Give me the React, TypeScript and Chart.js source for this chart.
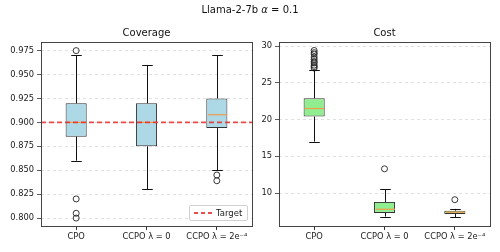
import React, { useEffect, useRef } from "react";
import { Chart, registerables } from "chart.js";
Chart.register(...registerables);

const CATEGORIES = ["CPO", "CCPO λ = 0", "CCPO λ = 2e⁻⁴"];

// Coverage
const COV_Q1 = [0.885, 0.875, 0.894];
const COV_Q3 = [0.92, 0.92, 0.925];
const COV_MED = [0.9, 0.9, 0.908];
const COV_LO = [0.86, 0.83, 0.85];
const COV_HI = [0.97, 0.96, 0.97];
const COV_OUT_CPO = [0.975, 0.82, 0.805, 0.8];
const COV_OUT_CCPO0: number[] = [];
const COV_OUT_CCPO2 = [0.845, 0.839];
const COV_TARGET = 0.9;
const COV_TICKS = [0.8, 0.825, 0.85, 0.875, 0.9, 0.925, 0.95, 0.975];
const COV_MIN = 0.7917;
const COV_MAX = 0.984;

// Cost
const COST_Q1 = [20.4, 7.3, 7.15];
const COST_Q3 = [22.9, 8.8, 7.6];
const COST_MED = [21.5, 7.8, 7.4];
const COST_LO = [17.0, 6.8, 6.7];
const COST_HI = [26.7, 10.55, 7.85];
const COST_OUT_CPO = [27.0, 27.2, 27.4, 27.7, 27.9, 28.2, 28.5, 28.9, 29.1, 29.4];
const COST_OUT_CCPO0 = [13.3];
const COST_OUT_CCPO2 = [9.1];
const COST_TICKS = [10, 15, 20, 25, 30];
const COST_MIN = 5.52;
const COST_MAX = 30.55;

const FONT = "'DejaVu Sans', sans-serif";
const TARGET_COLOR = "rgba(230,45,45,0.85)";

type BoxProps = {
  q1: number[];
  q3: number[];
  med: number[];
  lo: number[];
  hi: number[];
  outliers: number[][];
  color: string;
  ticks: number[];
  min: number;
  max: number;
  decimals: number;
  target?: number;
  yWidth: number;
  width: number;
  left: number;
};

const boxPlugin = {
  id: "boxExtras",
  afterDatasetsDraw(chart: any, _args: any, opts: any) {
    const { ctx, chartArea, scales } = chart;
    const x = scales.x;
    const y = scales.y;
    const meta = chart.getDatasetMeta(0);
    ctx.save();
    for (let i = 0; i < opts.q1.length; i++) {
      const cx = Math.round(x.getPixelForValue(i)) + 0.5;
      const bw = meta.data[i] ? meta.data[i].width : 20;
      const capHalf = bw / 4;
      ctx.strokeStyle = "#111";
      ctx.lineWidth = 1;
      ctx.setLineDash([]);
      ctx.beginPath();
      ctx.moveTo(cx, y.getPixelForValue(opts.q3[i]));
      ctx.lineTo(cx, y.getPixelForValue(opts.hi[i]));
      ctx.moveTo(cx, y.getPixelForValue(opts.q1[i]));
      ctx.lineTo(cx, y.getPixelForValue(opts.lo[i]));
      const yh = Math.round(y.getPixelForValue(opts.hi[i])) + 0.5;
      const yl = Math.round(y.getPixelForValue(opts.lo[i])) + 0.5;
      ctx.moveTo(cx - capHalf, yh);
      ctx.lineTo(cx + capHalf, yh);
      ctx.moveTo(cx - capHalf, yl);
      ctx.lineTo(cx + capHalf, yl);
      ctx.stroke();
      // median
      const ym = y.getPixelForValue(opts.med[i]);
      ctx.strokeStyle = "#f39c4a";
      ctx.lineWidth = 1.2;
      ctx.beginPath();
      ctx.moveTo(cx - bw / 2 + 1, ym);
      ctx.lineTo(cx + bw / 2 - 1, ym);
      ctx.stroke();
    }
    if (opts.target !== undefined && opts.target !== null) {
      const yt = y.getPixelForValue(opts.target);
      ctx.strokeStyle = TARGET_COLOR;
      ctx.lineWidth = 1.6;
      ctx.setLineDash([5, 3]);
      ctx.beginPath();
      ctx.moveTo(chartArea.left, yt);
      ctx.lineTo(chartArea.right, yt);
      ctx.stroke();
      ctx.setLineDash([]);
    }
    ctx.strokeStyle = "#444";
    ctx.lineWidth = 1;
    ctx.strokeRect(
      Math.round(chartArea.left) + 0.5,
      Math.round(chartArea.top) + 0.5,
      Math.round(chartArea.right - chartArea.left),
      Math.round(chartArea.bottom - chartArea.top)
    );
    ctx.restore();
  },
};

function BoxChart(p: BoxProps) {
  const ref = useRef<HTMLCanvasElement | null>(null);
  useEffect(() => {
    if (!ref.current) return;
    const outPts: { x: string; y: number }[] = [];
    p.outliers.forEach((arr, k) =>
      arr.forEach((v) => outPts.push({ x: CATEGORIES[k], y: v }))
    );
    const chart = new Chart(ref.current, {
      type: "bar",
      data: {
        labels: CATEGORIES,
        datasets: [
          {
            type: "bar",
            data: p.q1.map((v, i) => [v, p.q3[i]]) as any,
            backgroundColor: p.color,
            borderColor: "#333",
            borderWidth: 1,
            borderSkipped: false,
            barPercentage: 0.3,
            categoryPercentage: 1,
          } as any,
          {
            type: "line",
            data: outPts as any,
            showLine: false,
            pointRadius: 3,
            pointBackgroundColor: "rgba(0,0,0,0)",
            pointBorderColor: "#222",
            pointBorderWidth: 0.9,
          } as any,
        ],
      },
      options: {
        responsive: false,
        animation: false,
        layout: { padding: { left: 0, right: 10, top: 42, bottom: 0 } },
        plugins: {
          legend: { display: false },
          tooltip: { enabled: false },
          boxExtras: {
            q1: p.q1,
            q3: p.q3,
            med: p.med,
            lo: p.lo,
            hi: p.hi,
            target: p.target,
          },
        } as any,
        scales: {
          x: {
            offset: true,
            grid: {
              offset: false,
              drawOnChartArea: false,
              drawTicks: true,
              tickLength: 4,
              tickColor: "#333",
            },
            border: { display: false },
            ticks: {
              color: "#222",
              font: { family: FONT, size: 8.3 },
              padding: 2,
              maxRotation: 0,
              autoSkip: false,
            },
            afterFit: (s: any) => {
              s.height = 26;
            },
          },
          y: {
            min: p.min,
            max: p.max,
            grid: {
              color: "#d8d8d8",
              lineWidth: 0.8,
              drawTicks: true,
              tickLength: 4,
              tickColor: "#333",
              tickBorderDash: [],
            } as any,
            border: { display: false, dash: [3, 3] },
            ticks: {
              color: "#222",
              font: { family: FONT, size: 8.3 },
              padding: 3,
              callback: (v: any) => Number(v).toFixed(p.decimals),
            },
            afterBuildTicks: (s: any) => {
              s.ticks = p.ticks.map((v) => ({ value: v }));
            },
            afterFit: (s: any) => {
              s.width = p.yWidth;
            },
          },
        },
      },
      plugins: [boxPlugin],
    });
    return () => chart.destroy();
  }, []);
  return (
    <canvas
      ref={ref}
      width={p.width}
      height={252}
      style={{
        position: "absolute",
        left: p.left,
        top: 0,
        width: p.width,
        height: 252,
      }}
    />
  );
}

export default function App() {
  const titleStyle: React.CSSProperties = {
    position: "absolute",
    fontFamily: FONT,
    fontSize: 10,
    color: "#111",
    textAlign: "center",
    lineHeight: "12px",
    whiteSpace: "nowrap",
  };
  return (
    <div
      style={{
        position: "absolute",
        left: 0,
        top: 0,
        width: 500,
        height: 252,
        background: "#fff",
        overflow: "hidden",
      }}
    >
      <BoxChart
        q1={COV_Q1}
        q3={COV_Q3}
        med={COV_MED}
        lo={COV_LO}
        hi={COV_HI}
        outliers={[COV_OUT_CPO, COV_OUT_CCPO0, COV_OUT_CCPO2]}
        color="#add8e6"
        ticks={COV_TICKS}
        min={COV_MIN}
        max={COV_MAX}
        decimals={3}
        target={COV_TARGET}
        yWidth={41}
        width={262}
        left={0}
      />
      <BoxChart
        q1={COST_Q1}
        q3={COST_Q3}
        med={COST_MED}
        lo={COST_LO}
        hi={COST_HI}
        outliers={[COST_OUT_CPO, COST_OUT_CCPO0, COST_OUT_CCPO2]}
        color="#90ee90"
        ticks={COST_TICKS}
        min={COST_MIN}
        max={COST_MAX}
        decimals={0}
        yWidth={29}
        width={250}
        left={250}
      />
      <div style={{ ...titleStyle, left: 0, width: 500, top: 4 }}>
        Llama-2-7b <i>α</i> = 0.1
      </div>
      <div style={{ ...titleStyle, left: 41, width: 211, top: 27 }}>Coverage</div>
      <div style={{ ...titleStyle, left: 279, width: 211, top: 27 }}>Cost</div>
      <div
        style={{
          position: "absolute",
          left: 189,
          top: 205,
          width: 59,
          height: 16,
          border: "1px solid #d0d0d0",
          borderRadius: 2,
          background: "rgba(255,255,255,0.85)",
          fontFamily: FONT,
          fontSize: 8.5,
          color: "#222",
          boxSizing: "border-box",
        }}
      >
        <div
          style={{
            position: "absolute",
            left: 4,
            top: 6,
            width: 18,
            height: 2,
            background: `repeating-linear-gradient(to right, ${TARGET_COLOR} 0px, ${TARGET_COLOR} 4px, rgba(0,0,0,0) 4px, rgba(0,0,0,0) 7px)`,
          }}
        />
        <div style={{ position: "absolute", left: 26, top: 2, lineHeight: "10px" }}>
          Target
        </div>
      </div>
    </div>
  );
}
